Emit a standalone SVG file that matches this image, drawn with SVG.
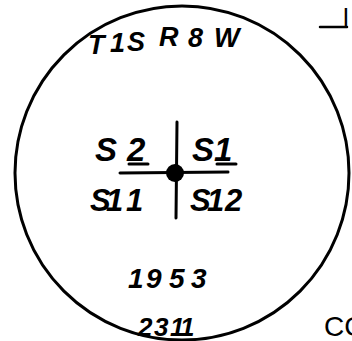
<svg xmlns="http://www.w3.org/2000/svg" width="352" height="341" viewBox="0 0 352 341">
<style>
.ink{fill:none;stroke:#000;stroke-linecap:round}
.hand{font-family:"Liberation Sans","DejaVu Sans",sans-serif;font-style:italic;font-weight:bold;fill:#000}
.plain{font-family:"Liberation Sans","DejaVu Sans",sans-serif;fill:#000}
</style>
<rect width="352" height="341" fill="#fff"/>
<g id="monument">
<circle class="ink" cx="182" cy="173" r="167" stroke-width="3"/>
</g>
<g id="township">
<text class="hand" font-style="normal" font-size="27" x="88 110 127 159 188 214" y="54 52 51 46 47 47">T1SR8W</text>
</g>
<g id="cross">
<line class="ink" x1="177" y1="122" x2="176" y2="218" stroke-width="3"/>
<line class="ink" x1="120" y1="173" x2="228" y2="172" stroke-width="3"/>
<circle cx="175" cy="173" r="9" fill="#000"/>
<line class="ink" x1="129" y1="164" x2="148" y2="164" stroke-width="3"/>
<line class="ink" x1="217" y1="164" x2="236" y2="164" stroke-width="3"/>
</g>
<g id="sections">
<text class="hand" font-size="33" x="95 127" y="161">S2</text>
<text class="hand" font-size="33" x="192 214" y="161">S1</text>
<text class="hand" font-size="31" x="90 106 126" y="211">S11</text>
<text class="hand" font-size="31" x="190 207 225" y="211">S12</text>
</g>
<g id="dates">
<text class="hand" font-size="28" x="128 146 169 191" y="288">1953</text>
<text class="hand" font-size="26" x="138 154 170 180" y="336">2311</text>
</g>
<g id="margin">
<line class="ink" x1="320" y1="27" x2="347" y2="27" stroke-width="2.5"/>
<text class="plain" font-size="26" x="343" y="27">l</text>
<text class="plain" font-size="28" x="324" y="336">CC</text>
</g>
</svg>
